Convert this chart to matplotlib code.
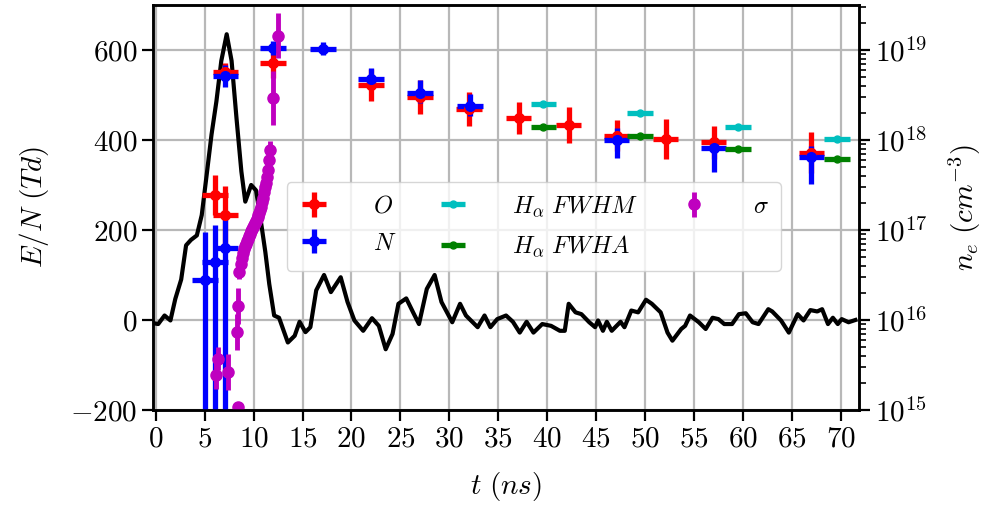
import numpy as np
import matplotlib
matplotlib.use('Agg')
import matplotlib.pyplot as plt

plt.rcParams.update({
    'font.family': 'serif',
    'font.serif': ['cmr10'],
    'mathtext.fontset': 'cm',
    'axes.formatter.use_mathtext': True,
    'font.size': 21,
})

# Reduced field trace (Td) vs time (ns)
trace_t = [0.0, 0.25, 0.9, 1.5, 2.0, 2.6, 3.1, 3.6, 4.2, 4.7, 5.2, 5.7, 6.2, 6.7, 7.25,
           7.75, 8.25, 8.75, 9.15, 9.75, 10.25, 10.7, 11.2, 11.6, 12.1, 12.6, 13.5,
           14.2, 14.7, 15.3, 15.8, 16.4, 17.2, 17.9, 18.9, 19.6, 20.3, 21.2, 22.1,
           22.8, 23.5, 24.2, 24.8, 25.6, 26.3, 26.9, 27.7, 28.5, 29.2, 30.3, 31.1,
           31.7, 32.9, 33.6, 34.2, 34.9, 35.8, 36.5, 37.2, 37.9, 38.6, 39.5, 40.4,
           41.3, 41.8, 42.2, 42.9, 43.5, 44.3, 44.9, 45.2, 45.7, 46.1, 46.6, 47.5,
           47.9, 48.6, 49.3, 50.1, 50.7, 51.6, 52.3, 52.8, 53.7, 54.1, 54.6, 54.9,
           55.5, 56.2, 56.9, 57.5, 58.1, 58.9, 59.6, 60.3, 61.0, 61.6, 62.6, 63.0,
           63.9, 64.7, 65.6, 66.2, 66.9, 67.6, 68.1, 68.7, 69.2, 69.7, 70.1, 70.8,
           71.5]
trace_en = [-8, -9, 10, -1, 47, 90, 166, 178, 188, 233, 322, 412, 486, 576, 635,
            576, 449, 330, 263, 300, 288, 226, 151, 80, 10, 5, -50,
            -35, -4, -27, -16, 66, 100, 62, 95, 40, -1, -24, 4,
            -13, -65, -31, 36, 48, 17, -9, 69, 100, 40, -5, 36,
            10, -16, 10, -16, 2, 10, -4, -28, -4, -28, -9, -13,
            -24, -24, 36, 17, 13, -5, -16, -1, -24, -4, -24, -4,
            -16, 21, 17, 45, 36, 17, -28, -46, -20, -13, 10, 5,
            -5, -20, 5, 2, -9, -9, 13, 15, -5, -9, 24, 19,
            -1, -28, 13, -1, 22, 19, 24, -9, 5, -9, 2, -5,
            0]

# O lines
o_t = [6.05, 7.1, 7.1, 12.0, 22.0, 27.0, 32.0, 37.1, 42.2, 47.1, 52.1, 57.0, 67.0]
o_en = [278, 233, 552, 572, 522, 496, 469, 449, 433, 410, 402, 395, 372]
o_err = [45, 65, 20, 35, 35, 38, 38, 35, 40, 35, 45, 37, 45]

# N lines
n_t = [5.05, 6.05, 7.1, 7.1, 12.0, 17.1, 22.0, 27.0, 32.1, 47.1, 57.0, 67.0]
n_en = [88, 129, 159, 542, 605, 603, 536, 505, 475, 401, 382, 362]
n_err_lo = [400, 400, 400, 25, 15, 15, 20, 22, 22, 42, 52, 60]
n_err_hi = [108, 82, 70, 25, 15, 15, 25, 28, 28, 25, 20, 25]

# H-alpha Stark broadening densities (cm^-3)
ha_t = [39.6, 49.5, 59.5, 69.6]
fwhm_ne = [2.5e18, 2.0e18, 1.38e18, 1.02e18]
fwha_ne = [1.41e18, 1.12e18, 7.9e17, 6.2e17]

# sigma points
sig_t = [6.2, 6.4, 7.35, 8.4, 8.35, 8.45, 8.55, 8.7, 8.8, 8.9, 9.0, 9.1, 9.2, 9.3,
         9.4, 9.5, 9.6, 9.7, 9.8, 9.9, 10.0, 10.1, 10.2, 10.3, 10.4, 10.5, 10.6,
         10.7, 10.8, 10.9, 11.0, 11.1, 11.2, 11.3, 11.4, 11.5, 11.6, 11.65, 12.0,
         12.45]
sig_en = [-123, -86, -115, -193, -27, 32, 107, 125, 138, 150, 158, 165, 170, 176,
          181, 186, 192, 197, 203, 207, 211, 215, 219, 224, 228, 233, 238,
          245, 252, 262, 272, 285, 295, 305, 318, 334, 355, 378, 494, 632]
sig_err = [30, 25, 40, 5, 40, 40, 15, 12, 12, 12, 12, 12, 12, 12,
           12, 12, 12, 12, 12, 12, 12, 12, 12, 12, 12, 12, 12,
           12, 12, 12, 14, 14, 14, 14, 15, 15, 18, 20, 60, 50]

t_halfwidth = 1.3

fig = plt.figure(figsize=(9.9, 5.12), dpi=100)
ax = fig.add_axes([153.3 / 990, 1 - 410 / 512, 706 / 990, 405 / 512])
ax2 = ax.twinx()

ax.plot(trace_t, trace_en, color='k', lw=3, zorder=2)

eb = dict(fmt='o', ms=7, elinewidth=3.8, capsize=0, zorder=3)
h_o = ax.errorbar(o_t, o_en, xerr=t_halfwidth, yerr=o_err, color='r', **eb)
h_n = ax.errorbar(n_t, n_en, xerr=t_halfwidth, yerr=[n_err_lo, n_err_hi], color='b', **eb)
h_s = ax.errorbar(sig_t, sig_en, yerr=sig_err, color='m', fmt='o', ms=8,
                  elinewidth=3.5, capsize=0, zorder=4)

h_fwhm = ax2.errorbar(ha_t, fwhm_ne, xerr=t_halfwidth, color='c', fmt='o', ms=5,
                      elinewidth=3.8, capsize=0)
h_fwha = ax2.errorbar(ha_t, fwha_ne, xerr=t_halfwidth, color='g', fmt='o', ms=5,
                      elinewidth=3.8, capsize=0)

ax.set_xlim(-0.25, 71.9)
ax.set_ylim(-200, 700)
ax.set_xticks(np.arange(0, 71, 5))
ax.set_yticks([-200, 0, 200, 400, 600])
ax.grid(True, color='#b8b8b8', lw=1.6)
ax.set_axisbelow(True)

ax2.set_yscale('log')
ax2.set_ylim(1e15, 10 ** 19.5)
ax2.set_yticks([1e15, 1e16, 1e17, 1e18, 1e19])

for a in (ax, ax2):
    a.tick_params(which='major', direction='out', length=8, width=1.6)
    a.tick_params(which='minor', direction='out', length=5, width=1.2)
    for s in a.spines.values():
        s.set_linewidth(1.8)

ax.set_xlabel(r'$t\ (ns)$', labelpad=13)
ax.set_ylabel(r'$E/N\ (Td)$', labelpad=14)
ax2.set_ylabel(r'$n_e\ (cm^{-3})$', labelpad=14)

ax2.legend([h_o, h_n, h_fwhm, h_fwha, h_s],
           [r'$O$', r'$N$', r'$H_\alpha\ FWHM$', r'$H_\alpha\ FWHA$', r'$\sigma$'],
           ncol=3, loc='center', bbox_to_anchor=(0.539, 0.453), fontsize=17.5,
           handlelength=1.25, handletextpad=1.8, columnspacing=1.7,
           labelspacing=0.6, borderpad=0.5)

fig.savefig('out.png', dpi=100)
